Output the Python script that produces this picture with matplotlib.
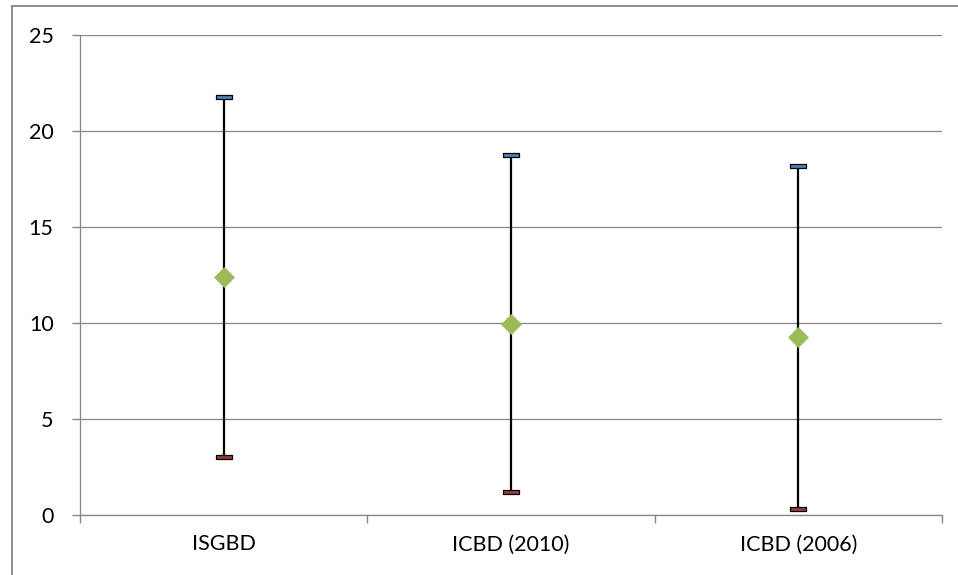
import matplotlib
matplotlib.use('Agg')
import matplotlib.pyplot as plt
from matplotlib.lines import Line2D

# values
categories = ['ISGBD', 'ICBD (2010)', 'ICBD (2006)']
high = [21.75, 18.73, 18.18]
low = [3.03, 1.18, 0.31]
close = [12.4, 9.95, 9.28]
y_ticks = [0, 5, 10, 15, 20, 25]

grey = '#868686'
plt.rcParams['font.family'] = ['Lato', 'DejaVu Sans']

fig = plt.figure(figsize=(9.58, 5.75), dpi=100)
ax = fig.add_axes([80 / 958, 1 - 515 / 575, 862 / 958, 480 / 575])

x = [i + 0.5 for i in range(len(categories))]

# high-low lines
ax.vlines(x, low, high, color='black', lw=1.6, zorder=3)

# high / low dashes
dash = [(-1, -0.32), (1, -0.32), (1, 0.32), (-1, 0.32), (-1, -0.32)]
ax.plot(x, high, ls='None', marker=dash, ms=11, mfc='#4f81bd',
        mec='black', mew=0.9, zorder=4)
ax.plot(x, low, ls='None', marker=dash, ms=11, mfc='#9a3d3a',
        mec='black', mew=0.9, zorder=4)

# close markers
ax.plot(x, close, ls='None', marker='D', ms=10.5, mfc='#9bbb59',
        mec='#9bbb59', mew=0.5, zorder=5)

# axes
ax.set_xlim(0, len(categories))
ax.set_ylim(0, 25)
ax.set_yticks(y_ticks)
ax.set_xticks(range(len(categories) + 1))
ax.set_xticklabels([])
ax.set_xticks(x, minor=True)
ax.set_xticklabels(categories, minor=True)
ax.tick_params(axis='x', which='major', length=6, width=1, color=grey, direction='out')
ax.tick_params(axis='x', which='minor', length=0, pad=14, labelsize=15.5)
ax.tick_params(axis='y', length=6, width=1, color=grey, direction='out', pad=13, labelsize=15.5)
ax.grid(axis='y', color=grey, lw=0.9)
ax.set_axisbelow(True)
for s in ['top', 'right']:
    ax.spines[s].set_visible(False)
for s in ['left', 'bottom']:
    ax.spines[s].set_color(grey)
    ax.spines[s].set_linewidth(0.9)

# chart area border (cut off at right and bottom)
fig.add_artist(Line2D([11.5 / 958, 1.0], [1 - 5.5 / 575, 1 - 5.5 / 575],
                      color=grey, lw=1.3, transform=fig.transFigure))
fig.add_artist(Line2D([11.5 / 958, 11.5 / 958], [0.0, 1 - 5.5 / 575],
                      color=grey, lw=1.3, transform=fig.transFigure))

fig.savefig('out.png', dpi=100)
